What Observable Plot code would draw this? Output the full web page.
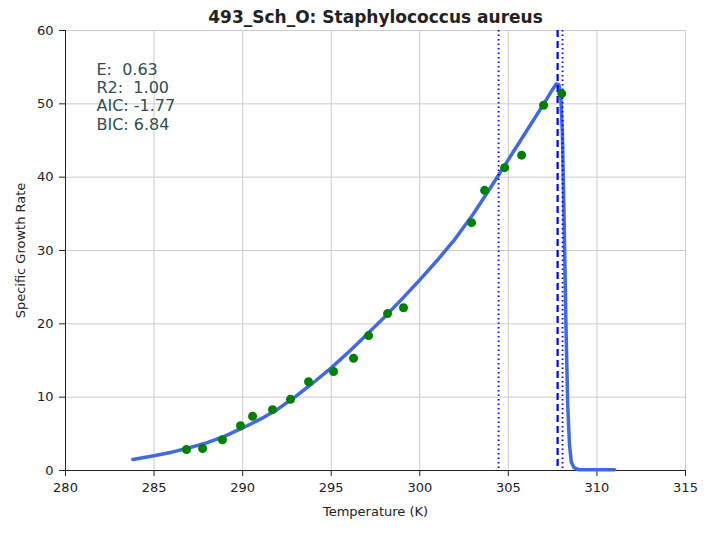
<!DOCTYPE html>
<html>
<head>
<meta charset="utf-8">
<script src="https://cdn.jsdelivr.net/npm/d3@7"></script>
<script src="https://cdn.jsdelivr.net/npm/@observablehq/plot@0.6"></script>
<style>
  body { margin: 0; background: white; }
  #chart svg { font-family: "DejaVu Sans", sans-serif; }
</style>
</head>
<body>
<div id="chart"></div>
<script>
// observed points
const temps = [286.83, 287.74, 288.86, 289.88, 290.56, 291.69, 292.70, 293.72, 295.13, 296.26,
               297.11, 298.18, 299.08, 302.92, 303.66, 304.79, 305.75, 306.99, 308.01];
const rates = [2.86, 3.0, 4.2, 6.1, 7.4, 8.3, 9.7, 12.1, 13.5, 15.3,
               18.4, 21.4, 22.2, 33.8, 38.2, 41.3, 43.0, 49.8, 51.4];

// fitted curve
const fitT = [283.8, 285, 286, 287, 288, 289, 290, 291, 292, 293, 294, 295, 296, 297, 298, 299, 300,
              301, 302, 303, 304, 305, 306, 307, 307.4, 307.7, 307.85, 307.95, 308.05, 308.15, 308.25,
              308.35, 308.45, 308.55, 308.7, 309, 311];
const fitR = [1.5, 2.0, 2.5, 3.1, 3.8, 4.7, 5.8, 7.0, 8.4, 10.1, 12.0, 14.0, 16.2, 18.5, 20.9, 23.4, 26.0,
              28.7, 31.6, 34.9, 38.6, 42.4, 46.2, 50.0, 51.6, 52.7, 52.6, 51.5, 46, 34, 20,
              9, 3.5, 1.2, 0.4, 0.1, 0.1];

const vDotted = [304.45, 308.06];
const vDashed = [307.78];
const stats = "E:  0.63\nR2:  1.00\nAIC: -1.77\nBIC: 6.84";

const pts = temps.map((t, i) => ({t, r: rates[i]}));
const fit = fitT.map((t, i) => ({t, r: fitR[i]}));

const chart = Plot.plot({
  width: 706,
  height: 533,
  marginLeft: 65,
  marginRight: 21,
  marginTop: 30,
  marginBottom: 63,
  style: {fontSize: "13px", color: "#222", background: "white"},
  x: {domain: [280, 315], ticks: d3.range(280, 316, 5), label: "Temperature (K)", labelArrow: "none", labelAnchor: "center", labelOffset: 45, tickSize: 6, tickPadding: 6},
  y: {domain: [0, 60], ticks: d3.range(0, 61, 10), label: "Specific Growth Rate", labelArrow: "none", labelAnchor: "center", labelOffset: 50, tickSize: 6, tickPadding: 6},
  marks: [
    Plot.gridX(d3.range(285, 316, 5), {stroke: "#cccccc", strokeOpacity: 1}),
    Plot.gridY(d3.range(10, 61, 10), {stroke: "#cccccc", strokeOpacity: 1}),
    Plot.ruleX([280], {stroke: "#222"}),
    Plot.ruleY([0], {stroke: "#222"}),
    Plot.line(fit, {x: "t", y: "r", stroke: "royalblue", strokeWidth: 3.5, curve: "linear", strokeLinejoin: "round"}),
    Plot.ruleX(vDotted, {stroke: "blue", strokeWidth: 1.8, strokeDasharray: "1.5,3"}),
    Plot.ruleX(vDashed, {stroke: "blue", strokeWidth: 2.2, strokeDasharray: "7,4"}),
    Plot.dot(pts, {x: "t", y: "r", r: 4.5, fill: "green", stroke: "none"}),
    Plot.text([stats], {frameAnchor: "top-left", dx: 31, dy: 31, textAnchor: "start", lineAnchor: "top", fontSize: 16, fill: "darkslategray", lineHeight: 1.15}),
    Plot.text(["493_Sch_O: Staphylococcus aureus"], {frameAnchor: "top", dy: -13, lineAnchor: "middle", fontSize: 17, fontWeight: "bold", fill: "#222"})
  ]
});
d3.select('#chart').append(() => chart);
</script>
</body>
</html>
